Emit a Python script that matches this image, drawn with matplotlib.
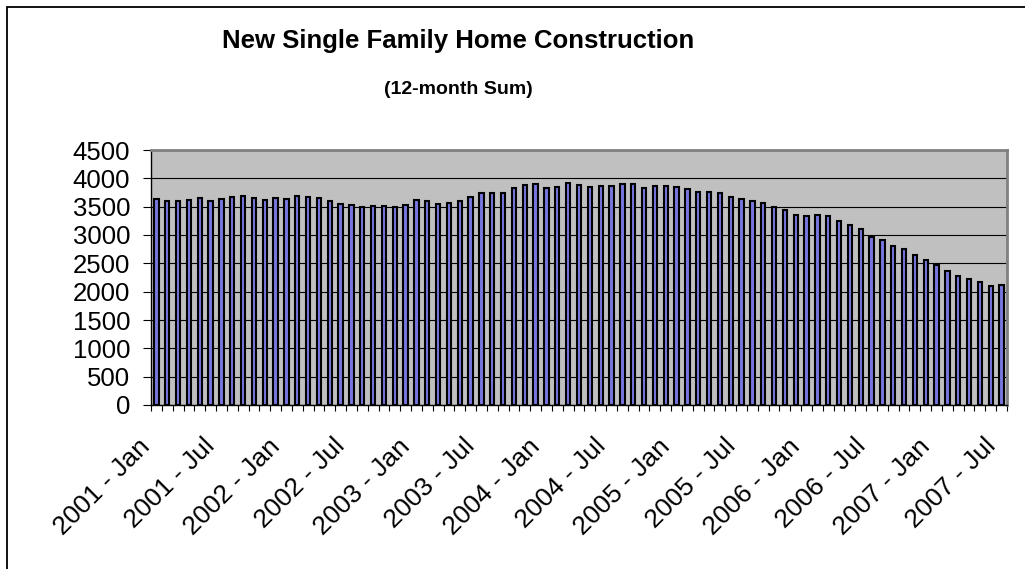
import numpy as np
import matplotlib
matplotlib.use("Agg")
from matplotlib import pyplot as plt
from matplotlib.patches import Rectangle
from matplotlib.transforms import ScaledTranslation

# ──────────────────────────────────────────────
# Data: 12-month sum of new single family home starts, Jan 2001 .. Jul 2007
# ──────────────────────────────────────────────
home_starts = [
    3628, 3593, 3604, 3622, 3651, 3604, 3634, 3664, 3693, 3646, 3616, 3651,  # 2001
    3640, 3687, 3669, 3651, 3598, 3545, 3522, 3492, 3510, 3504, 3486, 3533,  # 2002
    3622, 3598, 3539, 3569, 3598, 3675, 3734, 3734, 3740, 3835, 3882, 3905,  # 2003
    3835, 3852, 3918, 3876, 3852, 3864, 3870, 3894, 3900, 3829, 3870, 3864,  # 2004
    3852, 3806, 3758, 3758, 3746, 3675, 3634, 3598, 3569, 3492, 3439, 3356,  # 2005
    3338, 3356, 3333, 3243, 3178, 3107, 2972, 2919, 2806, 2753, 2646, 2557,  # 2006
    2475, 2362, 2273, 2220, 2173, 2108, 2120,                                # 2007
]
tick_labels = [
    "2001 - Jan", "2001 - Jul", "2002 - Jan", "2002 - Jul",
    "2003 - Jan", "2003 - Jul", "2004 - Jan", "2004 - Jul",
    "2005 - Jan", "2005 - Jul", "2006 - Jan", "2006 - Jul",
    "2007 - Jan", "2007 - Jul",
]
LABEL_STEP = 6

TITLE    = "New Single Family Home Construction"
SUBTITLE = "(12-month Sum)"

plt.rcParams["font.family"] = ["Liberation Sans", "DejaVu Sans"]

W, H = 1025, 569
fig = plt.figure(figsize=(W / 100, H / 100), dpi=100)
fig.patch.set_facecolor("white")

# plot area placed in pixel terms
left, right, top, bottom = 151, 1007, 150, 405
ax = fig.add_axes([left / W, 1 - bottom / H, (right - left) / W, (bottom - top) / H])
ax.set_facecolor("#c0c0c0")

x = np.arange(len(home_starts))
ax.bar(x, home_starts, width=0.4, color="#7878e0", edgecolor="black",
       linewidth=1.5, zorder=3)

ax.set_xlim(-0.5, len(home_starts) - 0.5)
ax.set_ylim(0, 4500)
ax.set_yticks(np.arange(0, 4501, 500))
ax.yaxis.grid(True, color="black", lw=0.8, zorder=1)
ax.set_axisbelow(True)

# category boundaries get the small ticks, labels every 6 months
ax.set_xticks(np.arange(-0.5, len(home_starts), 1.0), minor=True)
ax.set_xticks(x[::LABEL_STEP])
ax.set_xticklabels(tick_labels, rotation=45, ha="right", va="center",
                   rotation_mode="anchor", fontsize=19)
ax.tick_params(axis="x", which="major", length=0, pad=27)
ax.tick_params(axis="x", which="minor", length=4.5, width=0.8, direction="out", color="black")
ax.tick_params(axis="y", length=6, width=0.8, direction="out", pad=9, labelsize=18.5)
shift = ScaledTranslation(-10 / 100, 0, fig.dpi_scale_trans)
for lbl in ax.get_xticklabels():
    lbl.set_transform(lbl.get_transform() + shift)

for side in ("top", "right"):
    ax.spines[side].set_color("#808080")
    ax.spines[side].set_linewidth(2)
for side in ("left", "bottom"):
    ax.spines[side].set_color("black")
    ax.spines[side].set_linewidth(1)

# titles
fig.text(458 / W, 1 - 41 / H, TITLE, ha="center", va="center",
         fontsize=18.5, fontweight="bold")
fig.text(458 / W, 1 - 90 / H, SUBTITLE, ha="center", va="center",
         fontsize=14, fontweight="bold")

# chart area border (only top and left are inside the crop)
fig.patches.append(Rectangle((6.5 / W, -0.1), 1.2, 1.1 - 7 / H, transform=fig.transFigure,
                             fill=False, edgecolor="black", linewidth=1.3))

fig.savefig("out.png", dpi=100)
